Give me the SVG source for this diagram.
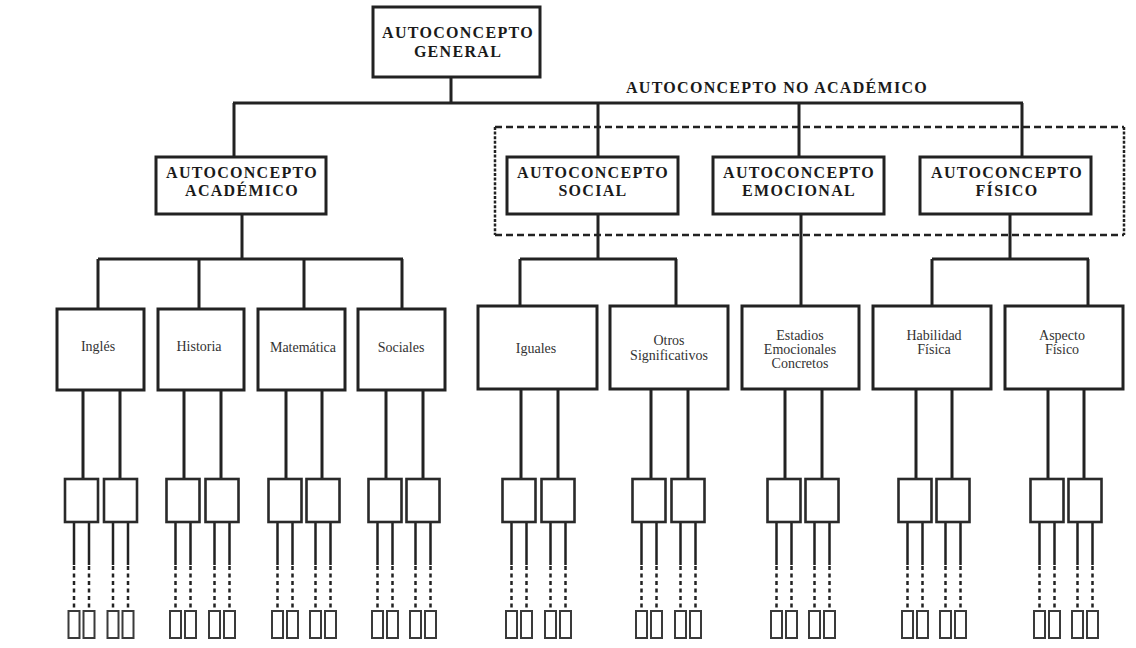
<svg xmlns="http://www.w3.org/2000/svg" xmlns:xlink="http://www.w3.org/1999/xlink" width="1136" height="648" viewBox="0 0 1136 648">
  <style>
    .box { fill: #ffffff; stroke: #222; stroke-width: 3; }
    .sbox { fill: #ffffff; stroke: #2a2a2a; stroke-width: 2.6; }
    .tbox { fill: #ffffff; stroke: #3a3a3a; stroke-width: 2; }
    .wire { fill: none; stroke: #222; stroke-width: 3; }
    .thin { fill: none; stroke: #222; stroke-width: 2.5; }
    .dots { fill: none; stroke: #222; stroke-width: 2.5; stroke-dasharray: 4 3.5; }
    .frame-h { fill: none; stroke: #222; stroke-width: 2.5; stroke-dasharray: 7 4; }
    .frame-v { fill: none; stroke: #222; stroke-width: 2.5; stroke-dasharray: 3 1.6; }
    .h { font-family: "Liberation Serif", "Times New Roman", serif; font-weight: bold; font-size: 16px; letter-spacing: 1.3px; fill: #1a1a1a; text-anchor: middle; }
    .t { font-family: "Liberation Serif", "Times New Roman", serif; font-size: 14px; fill: #333; text-anchor: middle; }
  </style>
  <defs>
    <!-- one leaf column: small box with its two tiny boxes, centred on x = 0 -->
    <g id="leaf-box">
      <rect class="sbox" x="-16.5" y="479" width="33" height="43"/>
      <rect class="tbox" x="-13" y="611" width="11" height="27"/>
      <rect class="tbox" x="2" y="611" width="11" height="27"/>
    </g>
    <!-- wires from a small box down to its tiny boxes -->
    <g id="leaf-wires">
      <path class="thin" d="M-7.5 522V565M7.5 522V565"/>
      <path class="dots" d="M-7.5 566V610M7.5 566V610"/>
    </g>
  </defs>

  <rect width="1136" height="648" fill="#ffffff"/>

  <!-- connectors -->
  <g id="connectors">
    <!-- general to second level -->
    <path class="wire" d="M451 77V103M233 103H1023M234 103V157M598 103V157M799 103V157M1022 103V157"/>
    <!-- second level to third level -->
    <path class="wire" d="M242 214V259M98 259H403M98 259V309M199 259V309M304 259V309M402 259V309"/>
    <path class="wire" d="M598 214V259M520 259H677M520 259V306M676 259V306"/>
    <path class="wire" d="M801 214V306"/>
    <path class="wire" d="M1010 214V259M932 259H1089M932 259V306M1088 259V306"/>
    <!-- third level to small boxes -->
    <path class="wire" d="M83 390V479M120 390V479M184 390V479M221 390V479M286 390V479M322 390V479M386 390V479M423 390V479M521 389V479M558 389V479M651 389V479M688 389V479M785 389V479M822 389V479M916 389V479M952 389V479M1048 389V479M1084 389V479"/>
    <!-- small boxes to tiny boxes -->
    <use xlink:href="#leaf-wires" transform="translate(81.5,0)"/>
    <use xlink:href="#leaf-wires" transform="translate(120.5,0)"/>
    <use xlink:href="#leaf-wires" transform="translate(183,0)"/>
    <use xlink:href="#leaf-wires" transform="translate(222,0)"/>
    <use xlink:href="#leaf-wires" transform="translate(285,0)"/>
    <use xlink:href="#leaf-wires" transform="translate(323,0)"/>
    <use xlink:href="#leaf-wires" transform="translate(385,0)"/>
    <use xlink:href="#leaf-wires" transform="translate(423,0)"/>
    <use xlink:href="#leaf-wires" transform="translate(519,0)"/>
    <use xlink:href="#leaf-wires" transform="translate(558,0)"/>
    <use xlink:href="#leaf-wires" transform="translate(649,0)"/>
    <use xlink:href="#leaf-wires" transform="translate(688,0)"/>
    <use xlink:href="#leaf-wires" transform="translate(784,0)"/>
    <use xlink:href="#leaf-wires" transform="translate(822,0)"/>
    <use xlink:href="#leaf-wires" transform="translate(915,0)"/>
    <use xlink:href="#leaf-wires" transform="translate(953,0)"/>
    <use xlink:href="#leaf-wires" transform="translate(1047,0)"/>
    <use xlink:href="#leaf-wires" transform="translate(1085,0)"/>
  </g>

  <!-- non-academic grouping frame -->
  <g id="no-academico">
    <path class="frame-h" d="M495 127H1124M495 235H1124"/>
    <path class="frame-v" d="M495 127V235M1124 127V235"/>
    <text class="h" x="777" y="93">AUTOCONCEPTO NO ACADÉMICO</text>
  </g>

  <!-- top node -->
  <g id="general">
    <rect class="box" x="373" y="7" width="167" height="70"/>
    <text class="h" x="458" y="38">AUTOCONCEPTO</text>
    <text class="h" x="458" y="57">GENERAL</text>
  </g>

  <!-- second level -->
  <g id="academico">
    <rect class="box" x="156" y="157" width="170" height="57"/>
    <text class="h" x="242" y="178">AUTOCONCEPTO</text>
    <text class="h" x="242" y="196">ACADÉMICO</text>
  </g>
  <g id="social">
    <rect class="box" x="507" y="157" width="171" height="57"/>
    <text class="h" x="593" y="178">AUTOCONCEPTO</text>
    <text class="h" x="593" y="196">SOCIAL</text>
  </g>
  <g id="emocional">
    <rect class="box" x="713" y="157" width="171" height="57"/>
    <text class="h" x="799" y="178">AUTOCONCEPTO</text>
    <text class="h" x="799" y="196">EMOCIONAL</text>
  </g>
  <g id="fisico">
    <rect class="box" x="920" y="157" width="171" height="57"/>
    <text class="h" x="1007" y="178">AUTOCONCEPTO</text>
    <text class="h" x="1007" y="196">FÍSICO</text>
  </g>

  <!-- third level -->
  <g id="ingles">
    <rect class="box" x="57" y="309" width="87" height="81"/>
    <text class="t" x="98" y="351">Inglés</text>
  </g>
  <g id="historia">
    <rect class="box" x="158" y="309" width="86" height="81"/>
    <text class="t" x="199" y="351">Historia</text>
  </g>
  <g id="matematica">
    <rect class="box" x="258" y="309" width="87" height="81"/>
    <text class="t" x="303" y="352">Matemática</text>
  </g>
  <g id="sociales">
    <rect class="box" x="358" y="309" width="87" height="81"/>
    <text class="t" x="401" y="352">Sociales</text>
  </g>
  <g id="iguales">
    <rect class="box" x="478" y="306" width="119" height="83"/>
    <text class="t" x="536" y="353">Iguales</text>
  </g>
  <g id="otros-significativos">
    <rect class="box" x="610" y="306" width="118" height="83"/>
    <text class="t" x="669" y="345">Otros</text>
    <text class="t" x="669" y="360">Significativos</text>
  </g>
  <g id="estadios-emocionales">
    <rect class="box" x="742" y="306" width="117" height="83"/>
    <text class="t" x="800" y="340">Estadios</text>
    <text class="t" x="800" y="354">Emocionales</text>
    <text class="t" x="800" y="368">Concretos</text>
  </g>
  <g id="habilidad-fisica">
    <rect class="box" x="873" y="306" width="118" height="83"/>
    <text class="t" x="934" y="340">Habilidad</text>
    <text class="t" x="934" y="354">Física</text>
  </g>
  <g id="aspecto-fisico">
    <rect class="box" x="1005" y="306" width="118" height="83"/>
    <text class="t" x="1062" y="340">Aspecto</text>
    <text class="t" x="1062" y="354">Físico</text>
  </g>

  <!-- leaf columns -->
  <g id="leaf-ingles-1" transform="translate(81.5,0)"><use xlink:href="#leaf-box"/></g>
  <g id="leaf-ingles-2" transform="translate(120.5,0)"><use xlink:href="#leaf-box"/></g>
  <g id="leaf-historia-1" transform="translate(183,0)"><use xlink:href="#leaf-box"/></g>
  <g id="leaf-historia-2" transform="translate(222,0)"><use xlink:href="#leaf-box"/></g>
  <g id="leaf-matematica-1" transform="translate(285,0)"><use xlink:href="#leaf-box"/></g>
  <g id="leaf-matematica-2" transform="translate(323,0)"><use xlink:href="#leaf-box"/></g>
  <g id="leaf-sociales-1" transform="translate(385,0)"><use xlink:href="#leaf-box"/></g>
  <g id="leaf-sociales-2" transform="translate(423,0)"><use xlink:href="#leaf-box"/></g>
  <g id="leaf-iguales-1" transform="translate(519,0)"><use xlink:href="#leaf-box"/></g>
  <g id="leaf-iguales-2" transform="translate(558,0)"><use xlink:href="#leaf-box"/></g>
  <g id="leaf-otros-1" transform="translate(649,0)"><use xlink:href="#leaf-box"/></g>
  <g id="leaf-otros-2" transform="translate(688,0)"><use xlink:href="#leaf-box"/></g>
  <g id="leaf-estadios-1" transform="translate(784,0)"><use xlink:href="#leaf-box"/></g>
  <g id="leaf-estadios-2" transform="translate(822,0)"><use xlink:href="#leaf-box"/></g>
  <g id="leaf-habilidad-1" transform="translate(915,0)"><use xlink:href="#leaf-box"/></g>
  <g id="leaf-habilidad-2" transform="translate(953,0)"><use xlink:href="#leaf-box"/></g>
  <g id="leaf-aspecto-1" transform="translate(1047,0)"><use xlink:href="#leaf-box"/></g>
  <g id="leaf-aspecto-2" transform="translate(1085,0)"><use xlink:href="#leaf-box"/></g>
</svg>
